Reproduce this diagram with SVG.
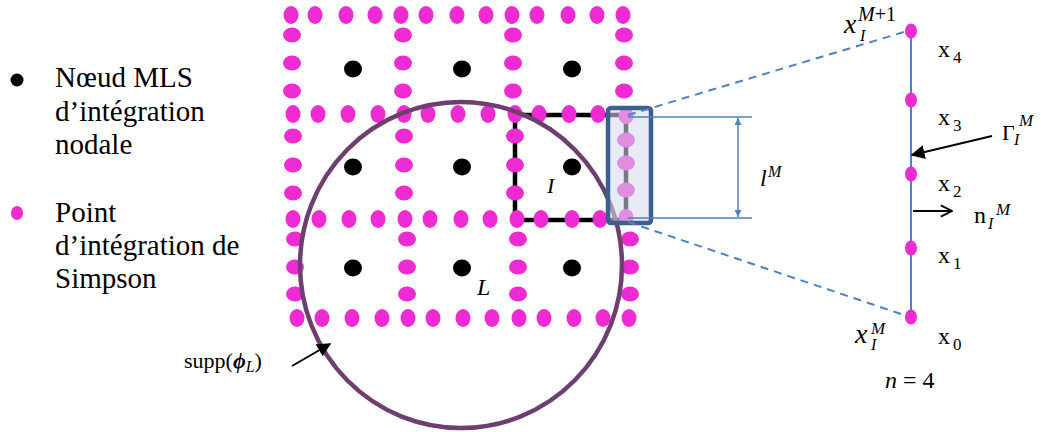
<svg xmlns="http://www.w3.org/2000/svg" width="1041" height="432" viewBox="0 0 1041 432">
<style>
.sp{fill:#ee2bd3}
.nd{fill:#000}
.blue{stroke:#4f81bd;fill:none}
</style>
<defs>
<marker id="tri" viewBox="0 0 10 10" refX="10" refY="5" markerWidth="7" markerHeight="7" orient="auto-start-reverse" markerUnits="userSpaceOnUse">
<path d="M0,0 L10,5 L0,10 z" fill="#4f81bd"/>
</marker>
<marker id="blk" viewBox="0 0 10 10" refX="9" refY="5" markerWidth="14" markerHeight="14" orient="auto" markerUnits="userSpaceOnUse">
<path d="M0,0 L10,5 L0,10 z" fill="#000"/>
</marker>
<marker id="open" viewBox="0 0 10 10" refX="9" refY="5" markerWidth="14" markerHeight="14" orient="auto" markerUnits="userSpaceOnUse">
<path d="M1,1 L9,5 L1,9" fill="none" stroke="#000" stroke-width="1.3"/>
</marker>
</defs>

<g id="legend" font-family="'Liberation Serif', 'Times New Roman', serif" font-size="29" fill="#000">
<circle cx="17" cy="80" r="6.5" class="nd"/>
<text x="55" y="87">Nœud MLS</text>
<text x="55" y="121">d’intégration</text>
<text x="55" y="154">nodale</text>
<ellipse cx="17" cy="213" rx="6" ry="7" class="sp"/>
<text x="55" y="222">Point</text>
<text x="55" y="255">d’intégration de</text>
<text x="55" y="288">Simpson</text>
</g>

<g id="cell-I">
<path d="M515,115 H626 V220 H515 Z" fill="none" stroke="#000" stroke-width="4.5"/>
</g>

<g id="simpson-points">
<g>
<ellipse cx="291" cy="15" rx="7.5" ry="9" class="sp"/><ellipse cx="315" cy="15" rx="7.5" ry="9" class="sp"/><ellipse cx="346" cy="15" rx="7.5" ry="9" class="sp"/><ellipse cx="375" cy="15" rx="7.5" ry="9" class="sp"/><ellipse cx="401" cy="15" rx="7.5" ry="9" class="sp"/><ellipse cx="426" cy="15" rx="7.5" ry="9" class="sp"/><ellipse cx="457" cy="15" rx="7.5" ry="9" class="sp"/><ellipse cx="486" cy="15" rx="7.5" ry="9" class="sp"/><ellipse cx="512" cy="15" rx="7.5" ry="9" class="sp"/><ellipse cx="537" cy="15" rx="7.5" ry="9" class="sp"/><ellipse cx="568" cy="15" rx="7.5" ry="9" class="sp"/><ellipse cx="597" cy="15" rx="7.5" ry="9" class="sp"/><ellipse cx="623" cy="15" rx="7.5" ry="9" class="sp"/>
</g>
<g>
<ellipse cx="293" cy="114" rx="7.5" ry="9" class="sp"/><ellipse cx="318" cy="114" rx="7.5" ry="9" class="sp"/><ellipse cx="348" cy="114" rx="7.5" ry="9" class="sp"/><ellipse cx="378" cy="114" rx="7.5" ry="9" class="sp"/><ellipse cx="404" cy="114" rx="7.5" ry="9" class="sp"/><ellipse cx="428" cy="114" rx="7.5" ry="9" class="sp"/><ellipse cx="458" cy="114" rx="7.5" ry="9" class="sp"/><ellipse cx="488" cy="114" rx="7.5" ry="9" class="sp"/><ellipse cx="515" cy="114" rx="7.5" ry="9" class="sp"/><ellipse cx="539" cy="114" rx="7.5" ry="9" class="sp"/><ellipse cx="569" cy="114" rx="7.5" ry="9" class="sp"/><ellipse cx="598" cy="114" rx="7.5" ry="9" class="sp"/><ellipse cx="626" cy="116" rx="7.5" ry="8" class="sp"/>
</g>
<g>
<ellipse cx="293" cy="219" rx="7.5" ry="9" class="sp"/><ellipse cx="319" cy="219" rx="7.5" ry="9" class="sp"/><ellipse cx="349" cy="219" rx="7.5" ry="9" class="sp"/><ellipse cx="378" cy="219" rx="7.5" ry="9" class="sp"/><ellipse cx="405" cy="219" rx="7.5" ry="9" class="sp"/><ellipse cx="430" cy="219" rx="7.5" ry="9" class="sp"/><ellipse cx="461" cy="219" rx="7.5" ry="9" class="sp"/><ellipse cx="490" cy="219" rx="7.5" ry="9" class="sp"/><ellipse cx="517" cy="219" rx="7.5" ry="9" class="sp"/><ellipse cx="541" cy="219" rx="7.5" ry="9" class="sp"/><ellipse cx="572" cy="219" rx="7.5" ry="9" class="sp"/><ellipse cx="600" cy="219" rx="7.5" ry="9" class="sp"/><ellipse cx="626" cy="217" rx="7.5" ry="8" class="sp"/>
</g>
<g>
<ellipse cx="297" cy="318" rx="7.5" ry="9" class="sp"/><ellipse cx="322" cy="318" rx="7.5" ry="9" class="sp"/><ellipse cx="352" cy="318" rx="7.5" ry="9" class="sp"/><ellipse cx="382" cy="318" rx="7.5" ry="9" class="sp"/><ellipse cx="408" cy="318" rx="7.5" ry="9" class="sp"/><ellipse cx="433" cy="318" rx="7.5" ry="9" class="sp"/><ellipse cx="463" cy="318" rx="7.5" ry="9" class="sp"/><ellipse cx="492" cy="318" rx="7.5" ry="9" class="sp"/><ellipse cx="519" cy="318" rx="7.5" ry="9" class="sp"/><ellipse cx="544" cy="318" rx="7.5" ry="9" class="sp"/><ellipse cx="574" cy="318" rx="7.5" ry="9" class="sp"/><ellipse cx="603" cy="318" rx="7.5" ry="9" class="sp"/><ellipse cx="629" cy="318" rx="7.5" ry="9" class="sp"/>
</g>
<g>
<ellipse cx="292" cy="35" rx="9" ry="7.5" class="sp"/><ellipse cx="292" cy="63" rx="9" ry="7.5" class="sp"/><ellipse cx="292" cy="91" rx="9" ry="7.5" class="sp"/>
<ellipse cx="403" cy="35" rx="9" ry="7.5" class="sp"/><ellipse cx="403" cy="63" rx="9" ry="7.5" class="sp"/><ellipse cx="403" cy="91" rx="9" ry="7.5" class="sp"/>
<ellipse cx="513" cy="35" rx="9" ry="7.5" class="sp"/><ellipse cx="513" cy="63" rx="9" ry="7.5" class="sp"/><ellipse cx="513" cy="91" rx="9" ry="7.5" class="sp"/>
<ellipse cx="624" cy="35" rx="9" ry="7.5" class="sp"/><ellipse cx="624" cy="63" rx="9" ry="7.5" class="sp"/><ellipse cx="624" cy="91" rx="9" ry="7.5" class="sp"/>
</g>
<g>
<ellipse cx="293" cy="136" rx="9" ry="7.5" class="sp"/><ellipse cx="293" cy="165" rx="9" ry="7.5" class="sp"/><ellipse cx="293" cy="193" rx="9" ry="7.5" class="sp"/>
<ellipse cx="404" cy="136" rx="9" ry="7.5" class="sp"/><ellipse cx="404" cy="165" rx="9" ry="7.5" class="sp"/><ellipse cx="404" cy="193" rx="9" ry="7.5" class="sp"/>
<ellipse cx="515" cy="136" rx="9" ry="7.5" class="sp"/><ellipse cx="515" cy="165" rx="9" ry="7.5" class="sp"/><ellipse cx="515" cy="193" rx="9" ry="7.5" class="sp"/>
<ellipse cx="626" cy="140" rx="9" ry="7.5" class="sp"/><ellipse cx="626" cy="163" rx="9" ry="7.5" class="sp"/><ellipse cx="626" cy="190" rx="9" ry="7.5" class="sp"/>
</g>
<g>
<ellipse cx="295" cy="239" rx="9" ry="7.5" class="sp"/><ellipse cx="295" cy="267" rx="9" ry="7.5" class="sp"/><ellipse cx="295" cy="294" rx="9" ry="7.5" class="sp"/>
<ellipse cx="407" cy="239" rx="9" ry="7.5" class="sp"/><ellipse cx="407" cy="267" rx="9" ry="7.5" class="sp"/><ellipse cx="407" cy="294" rx="9" ry="7.5" class="sp"/>
<ellipse cx="518" cy="239" rx="9" ry="7.5" class="sp"/><ellipse cx="518" cy="267" rx="9" ry="7.5" class="sp"/><ellipse cx="518" cy="294" rx="9" ry="7.5" class="sp"/>
<ellipse cx="630" cy="239" rx="9" ry="7.5" class="sp"/><ellipse cx="630" cy="267" rx="9" ry="7.5" class="sp"/><ellipse cx="630" cy="294" rx="9" ry="7.5" class="sp"/>
</g>
</g>

<g id="mls-nodes">
<ellipse cx="353" cy="69" rx="9" ry="8.5" class="nd"/><ellipse cx="462" cy="69" rx="9" ry="8.5" class="nd"/><ellipse cx="572" cy="69" rx="9" ry="8.5" class="nd"/>
<ellipse cx="353" cy="167" rx="9" ry="8.5" class="nd"/><ellipse cx="462" cy="167" rx="9" ry="8.5" class="nd"/><ellipse cx="572" cy="167" rx="9" ry="8.5" class="nd"/>
<ellipse cx="353" cy="268" rx="9" ry="8.5" class="nd"/><ellipse cx="462" cy="268" rx="9" ry="8.5" class="nd"/><ellipse cx="572" cy="268" rx="9" ry="8.5" class="nd"/>
</g>

<g id="labels-IL" font-family="'Liberation Serif', serif" font-style="italic" fill="#000">
<text x="547" y="193" font-size="22">I</text>
<text x="477" y="295" font-size="24">L</text>
</g>

<g id="support-circle">
<ellipse cx="461" cy="265" rx="161" ry="163" fill="none" stroke="#6e3f6e" stroke-width="4.5"/>
</g>

<g id="boundary-box">
<rect x="608" y="108" width="43" height="115" rx="3" fill="rgb(214,220,238)" fill-opacity="0.56" stroke="#3d5f8f" stroke-width="4.5"/>
</g>

<g id="connectors">
<line x1="628" y1="117" x2="752" y2="117" class="blue" stroke-width="1.5"/>
<line x1="628" y1="218" x2="752" y2="218" class="blue" stroke-width="1.5"/>
<line x1="738" y1="118" x2="738" y2="217" class="blue" stroke-width="1.5" marker-start="url(#tri)" marker-end="url(#tri)"/>
<line x1="628" y1="115" x2="904" y2="32" class="blue" stroke-width="2" stroke-dasharray="8,6"/>
<line x1="628" y1="222" x2="904" y2="315" class="blue" stroke-width="2" stroke-dasharray="8,6"/>
<line x1="911" y1="31" x2="911" y2="317" class="blue" stroke-width="2"/>
<line x1="992" y1="136" x2="912" y2="155" stroke="#000" stroke-width="2" marker-end="url(#blk)"/>
<line x1="913" y1="211" x2="952" y2="211" stroke="#000" stroke-width="2" marker-end="url(#open)"/>
<line x1="292" y1="366" x2="330" y2="344" stroke="#000" stroke-width="2" marker-end="url(#blk)"/>
</g>

<g id="segment-points">
<ellipse cx="911" cy="31" rx="6" ry="7.5" class="sp"/>
<ellipse cx="911" cy="100" rx="6" ry="7.5" class="sp"/>
<ellipse cx="911" cy="174" rx="6" ry="7.5" class="sp"/>
<ellipse cx="911" cy="248" rx="6" ry="7.5" class="sp"/>
<ellipse cx="911" cy="317" rx="6" ry="7.5" class="sp"/>
</g>

<g id="math-labels" font-family="'Liberation Serif', serif" fill="#000">
<text x="760" y="186" font-size="24" font-style="italic">l</text>
<text x="768" y="177" font-size="16" font-style="italic">M</text>

<text x="844" y="33" font-size="28" font-style="italic">x</text>
<text x="858" y="21" font-size="20"><tspan font-style="italic">M</tspan>+1</text>
<text x="860" y="41" font-size="16" font-style="italic">I</text>

<text x="938" y="57" font-size="24">x</text><text x="953" y="63" font-size="17">4</text>
<text x="938" y="125" font-size="24">x</text><text x="953" y="131" font-size="17">3</text>
<text x="938" y="191" font-size="24">x</text><text x="953" y="197" font-size="17">2</text>
<text x="938" y="263" font-size="24">x</text><text x="953" y="269" font-size="17">1</text>
<text x="938" y="344" font-size="24">x</text><text x="953" y="350" font-size="17">0</text>

<text x="1002" y="140" font-size="22">Γ</text>
<text x="1014" y="145" font-size="16" font-style="italic">I</text>
<text x="1019" y="126" font-size="17" font-style="italic">M</text>

<text x="974" y="223" font-size="24">n</text>
<text x="988" y="229" font-size="16" font-style="italic">I</text>
<text x="996" y="215" font-size="17" font-style="italic">M</text>

<text x="855" y="343" font-size="28" font-style="italic">x</text>
<text x="871" y="334" font-size="17" font-style="italic">M</text>
<text x="871" y="350" font-size="16" font-style="italic">I</text>

<text x="885" y="388" font-size="24"><tspan font-style="italic">n</tspan> = 4</text>

<text x="184" y="368" font-size="22">supp(<tspan font-weight="bold" font-style="italic">ϕ</tspan><tspan font-style="italic" font-size="16" dy="4">L</tspan><tspan dy="-4">)</tspan></text>
</g>
</svg>
